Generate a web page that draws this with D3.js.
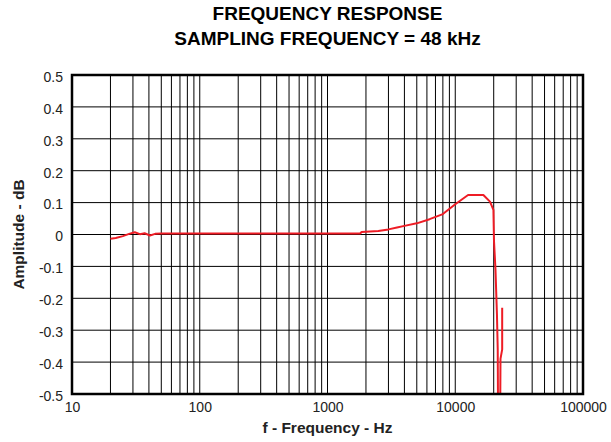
<!DOCTYPE html>
<html>
<head>
<meta charset="utf-8">
<script src="https://cdn.jsdelivr.net/npm/d3@7"></script>
<style>
  body { margin: 0; background: #fff; }
  svg { display: block; font-family: "Liberation Sans", Arial, sans-serif; }
</style>
</head>
<body>
<div id="chart"></div>
<script>
const freqs = [20, 22, 25, 28, 31, 34, 37, 40.8, 44.7, 50, 100, 200, 500, 1000, 1800, 1850, 2500, 3000, 3500, 4000, 5000, 6300, 8000, 10000, 12600, 16600, 18700, 19900, 20100, 20650, 21200, 21500, 21650, 22450, 22600, 23300, 23300]
const dbs = [-0.013, -0.011, -0.005, 0.002, 0.007, 0.001, 0.004, -0.003, 0.002, 0.003, 0.003, 0.003, 0.003, 0.003, 0.003, 0.008, 0.011, 0.016, 0.022, 0.027, 0.035, 0.048, 0.064, 0.095, 0.124, 0.124, 0.103, 0.077, -0.02, -0.11, -0.25, -0.36, -0.6, -0.6, -0.39, -0.36, -0.23]

const xTicks = [10, 100, 1000, 10000, 100000]
const yTicks = [-0.5, -0.4, -0.3, -0.2, -0.1, 0, 0.1, 0.2, 0.3, 0.4, 0.5]
const titleLines = ['FREQUENCY RESPONSE', 'SAMPLING FREQUENCY = 48 kHz']

const data = freqs.map((f, i) => ({ f: f, db: dbs[i] }))

const W = 611, H = 442
const margin = { top: 75, right: 28, bottom: 48, left: 72 }
const width = W - margin.left - margin.right
const height = H - margin.top - margin.bottom

const svg = d3.select('#chart').append('svg')
  .attr('width', W)
  .attr('height', H)

const g = svg.append('g')
  .attr('transform', 'translate(' + margin.left + ',' + margin.top + ')')

const x = d3.scaleLog().domain([10, 100000]).range([0, width])
const y = d3.scaleLinear().domain([-0.5, 0.5]).range([height, 0])

// minor + major grid
const gridX = []
for (let d = 10; d < 100000; d *= 10) {
  for (let k = 1; k < 10; k++) gridX.push(d * k)
}
g.selectAll('.vgrid').data(gridX).enter().append('line')
  .attr('x1', d => x(d)).attr('x2', d => x(d))
  .attr('y1', 0).attr('y2', height)
  .attr('stroke', '#000').attr('stroke-width', 1)

g.selectAll('.hgrid').data(yTicks).enter().append('line')
  .attr('x1', 0).attr('x2', width)
  .attr('y1', d => y(d)).attr('y2', d => y(d))
  .attr('stroke', '#000').attr('stroke-width', 1)

// curve
g.append('clipPath').attr('id', 'clip')
  .append('rect').attr('width', width).attr('height', height)

g.append('path')
  .datum(data)
  .attr('clip-path', 'url(#clip)')
  .attr('fill', 'none')
  .attr('stroke', '#ee1c25')
  .attr('stroke-width', 2)
  .attr('stroke-linejoin', 'round')
  .attr('d', d3.line().x(d => x(d.f)).y(d => y(d.db)))

// frame
g.append('rect')
  .attr('width', width).attr('height', height)
  .attr('fill', 'none').attr('stroke', '#000').attr('stroke-width', 2.5)

// plain hyphen for negatives, like the original
const fmtY = d => d === 0 ? '0' : (d < 0 ? '-' : '') + Math.abs(d).toFixed(1)

const yAxis = g.append('g')
  .call(d3.axisLeft(y).tickValues(yTicks).tickSize(0).tickPadding(9).tickFormat(fmtY))
yAxis.select('.domain').remove()
yAxis.selectAll('text')
  .attr('font-size', 14).attr('fill', '#222').attr('font-family', 'Liberation Sans, Arial, sans-serif')
  .attr('dy', '0.45em')

const xAxis = g.append('g')
  .attr('transform', 'translate(0,' + height + ')')
  .call(d3.axisBottom(x).tickValues(xTicks).tickSize(0).tickPadding(8)
    .tickFormat(d3.format('d')))
xAxis.select('.domain').remove()
xAxis.selectAll('text')
  .attr('font-size', 14).attr('fill', '#222').attr('font-family', 'Liberation Sans, Arial, sans-serif')

svg.selectAll('.title').data(titleLines).enter().append('text')
  .attr('x', margin.left + width / 2)
  .attr('y', (d, i) => 20 + i * 24.5)
  .attr('text-anchor', 'middle')
  .attr('font-size', 19).attr('font-weight', 'bold')
  .text(d => d)

svg.append('text')
  .attr('x', margin.left + width / 2).attr('y', 433)
  .attr('text-anchor', 'middle')
  .attr('font-size', 15.5).attr('font-weight', 'bold').attr('fill', '#222')
  .text('f - Frequency - Hz')

svg.append('text')
  .attr('transform', 'translate(24,' + (margin.top + height / 2) + ') rotate(-90)')
  .attr('text-anchor', 'middle')
  .attr('font-size', 15.5).attr('font-weight', 'bold').attr('fill', '#222')
  .text('Amplitude - dB')
</script>
</body>
</html>
